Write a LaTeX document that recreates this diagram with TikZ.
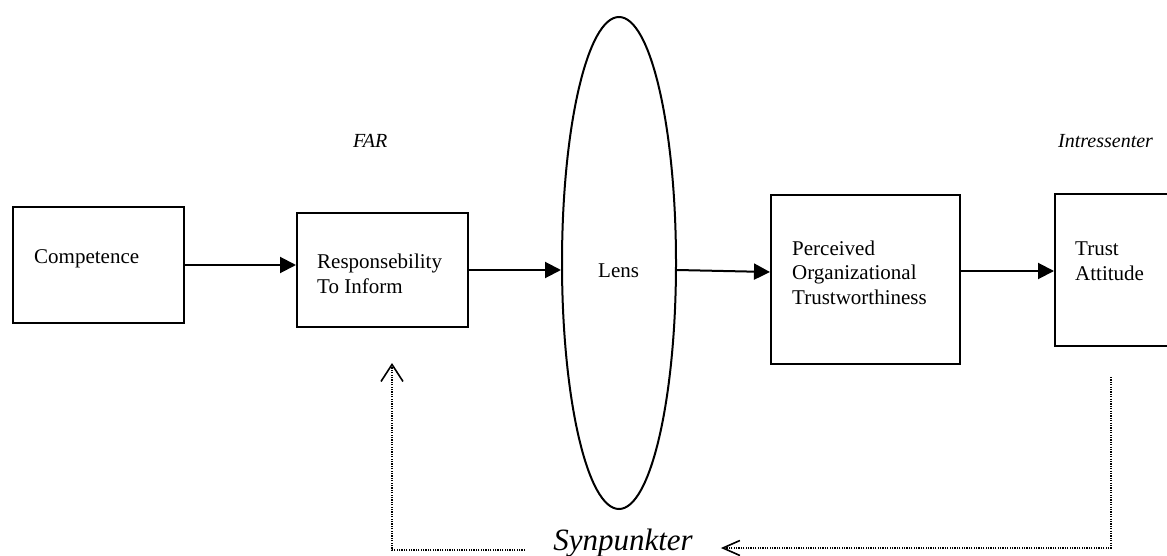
\documentclass[tikz,border=0pt]{standalone}
\usepackage{fontspec}
\setmainfont{Liberation Serif}
\usetikzlibrary{arrows.meta,shapes.geometric}
\begin{document}
\begin{tikzpicture}[x=1pt,y=-1pt,
  box/.style={draw,line width=2pt,rectangle,inner sep=0pt},
  lbl/.style={anchor=base west,inner sep=0pt,align=left,font=\fontsize{21}{24.5}\selectfont},
  ital/.style={anchor=base west,inner sep=0pt,font=\fontsize{20}{24}\selectfont\itshape},
  arr/.style={line width=2pt,-{Triangle[length=16pt,width=16pt]}},
  fb/.style={line width=1.4pt,dash pattern=on 1.2pt off 1.2pt},
  fbarr/.style={fb,-{Straight Barb[length=17pt,width=22pt,line width=1.6pt]}},
  fbarrs/.style={fb,-{Straight Barb[length=17pt,width=15pt,line width=1.6pt]}}
]
\useasboundingbox (0,0) rectangle (1167,556);
\clip (0,0) rectangle (1167,556);
% boxes
\node[box,minimum width=171pt,minimum height=115pt] (comp) at (98.5,265) {};
\node[box,minimum width=171pt,minimum height=114pt] (resp) at (382.5,270) {};
\node[draw,ellipse,line width=2pt,inner sep=0pt,minimum width=114pt,minimum height=492pt] (lens) at (619,263) {};
\node[box,minimum width=189pt,minimum height=169pt] (perc) at (865.5,279.5) {};
\node[box,minimum width=135pt,minimum height=152pt] (trust) at (1122.5,270) {};
% texts
\node[lbl] (tcomp) at (34,263) {Competence};
\node[lbl] (tresp) at (317,293) {Responsebility\\To Inform};
\node[lbl] (tlens) at (598,277) {Lens};
\node[lbl] (tperc) at (792,304) {Perceived\\Organizational\\Trustworthiness};
\node[lbl] (ttrust) at (1075,280) {Trust\\Attitude};
\node[ital] (far) at (353,148) {FAR};
\node[ital] (intr) at (1058,148) {Intressenter};
\node[anchor=base,inner xsep=28pt,inner ysep=0pt,font=\fontsize{31}{36}\selectfont\itshape] (synp) at (623,550) {Synpunkter};
% connectors
\draw[arr] (comp.east) -- (comp.east -| resp.west);
\draw[arr] (resp.east) -- (resp.east -| lens.west);
\draw[arr] (lens.east |- resp.east) -- ([yshift=7.5pt]perc.west);
\draw[arr] ([yshift=8.5pt]perc.east) -- ([yshift=8.5pt]perc.east -| trust.west);
% feedback
\coordinate (fbtip) at (392,363);
\coordinate (fbstart) at (1111,377);
\draw[fbarr] (synp.base west) -| (fbtip);
\draw[fbarrs] (fbstart) |- ([yshift=2pt]synp.base east);
\end{tikzpicture}
\end{document}
